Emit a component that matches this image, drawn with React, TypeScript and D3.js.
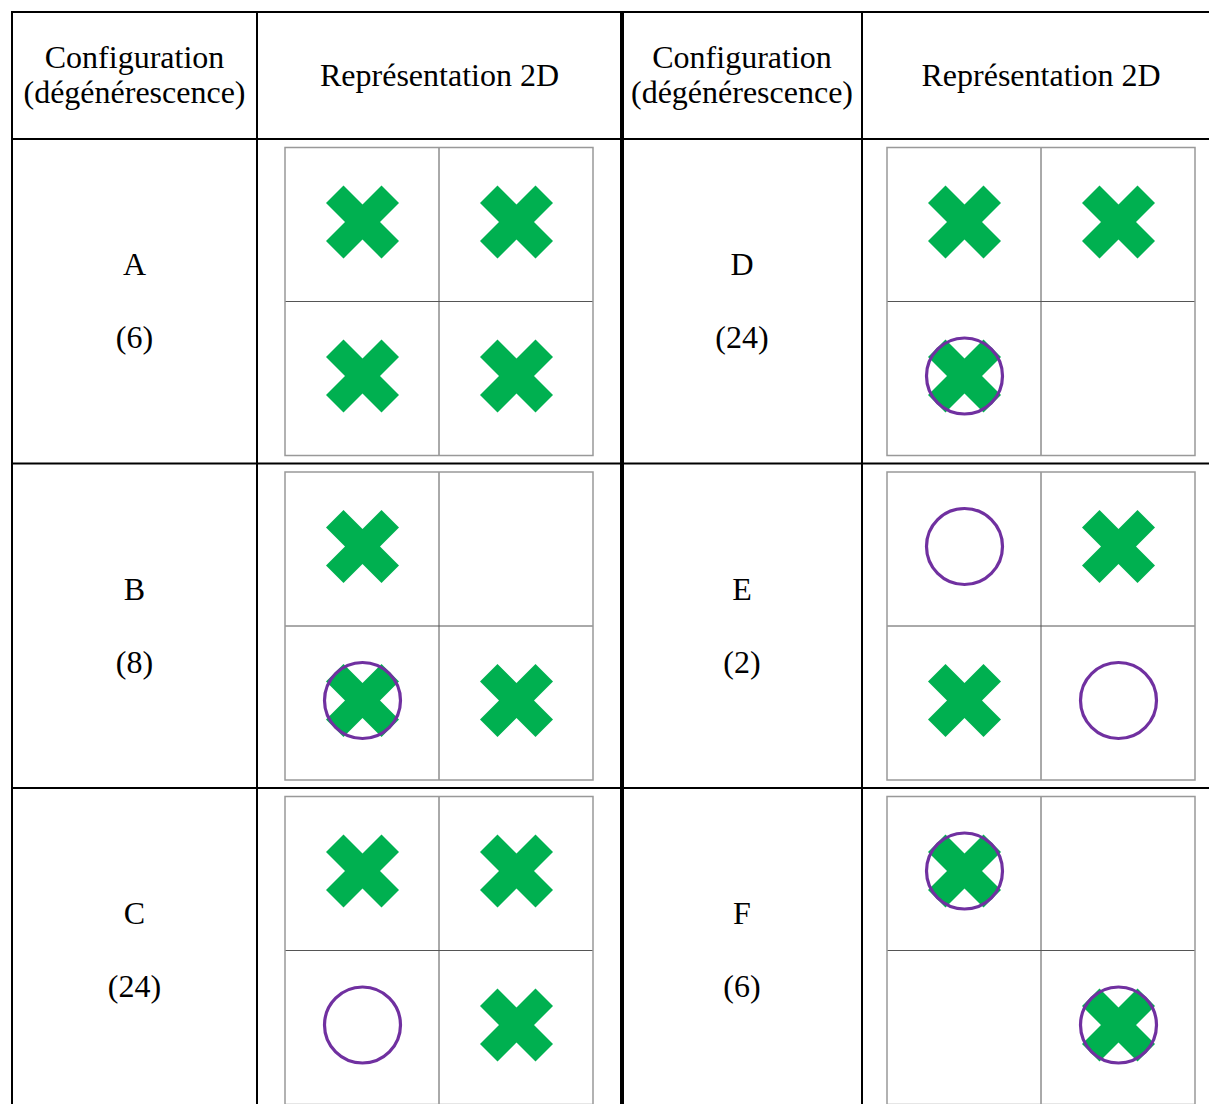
import React from "react";
import * as d3 from "d3";

// ---- data ----
const headers = ["Configuration", "(dégénérescence)"];
const reprHeader = "Représentation 2D";
const configNames = ["A", "B", "C", "D", "E", "F"];
const degeneracies = [6, 8, 24, 24, 2, 6];
// 2x2 grids, row-major: "X" cross, "O" circle, "XO" both, "" empty
const gridA = ["X", "X", "X", "X"];
const gridB = ["X", "", "XO", "X"];
const gridC = ["X", "X", "O", "X"];
const gridD = ["X", "X", "XO", ""];
const gridE = ["O", "X", "X", "O"];
const gridF = ["XO", "", "", "XO"];
const grids = [gridA, gridB, gridC, gridD, gridE, gridF];

const W = 1209;
const H = 1104;
const GREEN = "#00B050";
const PURPLE = "#7030A0";
const FONT = '"Liberation Serif", serif';

const tableLeft = 12;
const tableTop = 12;
const headerBottom = 139;
const rowH = 324.5;
const colEdges = [12, 257, 622, 862, 1240];
const gridLeft = [285, 887];
const gridSize = 308;

const rowScale = d3.scaleLinear().domain([0, 1]).range([headerBottom, headerBottom + rowH]);
const cellScale = d3.scaleBand<number>().domain([0, 1]).range([0, gridSize]);

function crossPath(h: number, a: number) {
  const pts: [number, number][] = [
    [-h, -h + a], [-h + a, -h], [0, -a], [h - a, -h], [h, -h + a], [a, 0],
    [h, h - a], [h - a, h], [0, a], [-h + a, h], [-h, h - a], [-a, 0],
  ];
  return d3.line()(pts)! + "Z";
}
const CROSS = crossPath(36.5, 17.5);

function Grid({ x, y, cells }: { x: number; y: number; cells: string[] }) {
  const bw = cellScale.bandwidth();
  return (
    <g transform={`translate(${x},${y})`}>
      {cells.map((c, i) => {
        const cx = cellScale(i % 2)! + bw / 2 + 0.5;
        const cy = cellScale(Math.floor(i / 2))! + bw / 2 - 2.5;
        return (
          <g key={i} transform={`translate(${cx},${cy})`}>
            {c.includes("X") && <path d={CROSS} fill={GREEN} />}
            {c.includes("O") && <circle r={38} fill="none" stroke={PURPLE} strokeWidth={3.2} />}
          </g>
        );
      })}
      <line x1={bw} x2={bw} y1={0} y2={gridSize} stroke="#555" strokeWidth={1} />
      <line x1={0} x2={gridSize} y1={bw} y2={bw} stroke="#555" strokeWidth={1} />
      <rect x={0} y={0} width={gridSize} height={gridSize} fill="none" stroke="#999" strokeWidth={1.5} />
    </g>
  );
}

export default function App() {
  const half = [0, 1];
  return (
    <svg
      width={W}
      height={H}
      style={{ position: "absolute", left: 0, top: 0, background: "#fff", fontFamily: FONT }}
    >
      <rect width={W} height={H} fill="#fff" />
      {/* header text */}
      {half.map((s) => {
        const c1 = (colEdges[s * 2] + colEdges[s * 2 + 1]) / 2;
        const c2 = (colEdges[s * 2 + 1] + colEdges[s * 2 + 2]) / 2;
        const c2adj = s === 0 ? c2 : 1041;
        return (
          <g key={s} fontSize={32} textAnchor="middle" fill="#000">
            <text x={c1} y={68}>{headers[0]}</text>
            <text x={c1} y={103}>{headers[1]}</text>
            <text x={c2adj} y={86}>{reprHeader}</text>
          </g>
        );
      })}
      {/* rows */}
      {configNames.map((name, i) => {
        const s = Math.floor(i / 3);
        const r = i % 3;
        const top = rowScale(r);
        const cx = (colEdges[s * 2] + colEdges[s * 2 + 1]) / 2;
        return (
          <g key={name}>
            <text x={cx} y={top + 136} fontSize={32} textAnchor="middle">{name}</text>
            <text x={cx} y={top + 209} fontSize={32} textAnchor="middle">({degeneracies[i]})</text>
            <Grid x={gridLeft[s]} y={top + 8.5} cells={grids[i]} />
          </g>
        );
      })}
      {/* table lines */}
      <line x1={tableLeft - 1} x2={W} y1={tableTop} y2={tableTop} stroke="#000" strokeWidth={2} />
      <line x1={tableLeft} x2={W} y1={headerBottom} y2={headerBottom} stroke="#000" strokeWidth={2} />
      {[1, 2].map((r) => (
        <line key={r} x1={tableLeft} x2={W} y1={rowScale(r)} y2={rowScale(r)} stroke="#000" strokeWidth={2} />
      ))}
      <line x1={tableLeft} x2={tableLeft} y1={tableTop - 1} y2={H} stroke="#000" strokeWidth={2} />
      <line x1={colEdges[1]} x2={colEdges[1]} y1={tableTop} y2={H} stroke="#000" strokeWidth={2} />
      <line x1={colEdges[2]} x2={colEdges[2]} y1={tableTop} y2={H} stroke="#000" strokeWidth={4} />
      <line x1={colEdges[3]} x2={colEdges[3]} y1={tableTop} y2={H} stroke="#000" strokeWidth={2} />
    </svg>
  );
}
